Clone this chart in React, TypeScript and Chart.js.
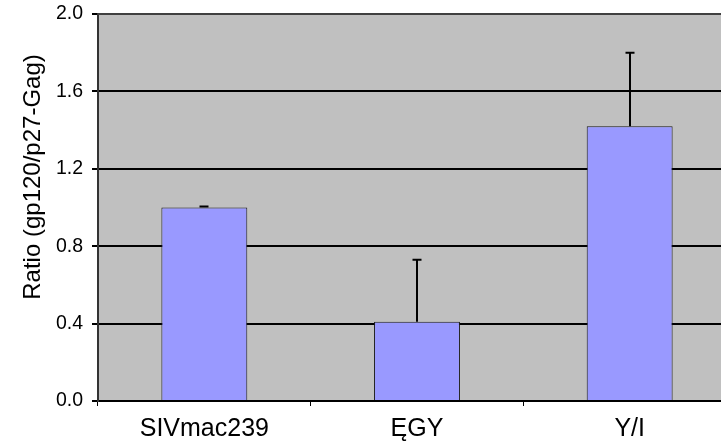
import { useEffect, useRef } from "react";
import { Chart, registerables } from "chart.js";

Chart.register(...registerables);

const categories = ["SIVmac239", "ĘGY", "Y/I"];
const ratioValues = [1.0, 0.41, 1.42];
const errorPlus = [0.005, 0.32, 0.38];
const yTicks = [0, 0.4, 0.8, 1.2, 1.6, 2.0];
const yTitle = "Ratio (gp120/p27-Gag)";

const FONT = "'Liberation Sans', Arial, sans-serif";

const decorPlugin = {
  id: "decor",
  beforeDraw(chart: any) {
    const { ctx, chartArea: a } = chart;
    ctx.save();
    ctx.fillStyle = "#C0C0C0";
    ctx.fillRect(a.left, a.top, a.right - a.left, a.bottom - a.top);
    ctx.restore();
  },
  afterDatasetsDraw(chart: any) {
    const { ctx } = chart;
    const meta = chart.getDatasetMeta(0);
    const ys = chart.scales.y;
    ctx.save();
    ctx.strokeStyle = "#000";
    ctx.lineWidth = 2;
    meta.data.forEach((bar: any, i: number) => {
      const x = Math.round(bar.x);
      const y0 = ys.getPixelForValue(ratioValues[i]);
      const y1 = ys.getPixelForValue(ratioValues[i] + errorPlus[i]);
      ctx.beginPath();
      ctx.moveTo(x, y0);
      ctx.lineTo(x, y1);
      ctx.moveTo(x - 4.5, y1);
      ctx.lineTo(x + 4.5, y1);
      ctx.stroke();
    });
    ctx.restore();
  },
  afterDraw(chart: any) {
    const { ctx, chartArea: a } = chart;
    ctx.save();
    ctx.strokeStyle = "#404040";
    ctx.lineWidth = 2;
    ctx.beginPath();
    ctx.moveTo(a.left, a.top);
    ctx.lineTo(a.right, a.top);
    ctx.stroke();
    ctx.translate(33, 177);
    ctx.rotate(-Math.PI / 2);
    ctx.fillStyle = "#000";
    ctx.font = `24px ${FONT}`;
    ctx.textAlign = "center";
    ctx.textBaseline = "middle";
    ctx.fillText(yTitle, 0, 0);
    ctx.restore();
  },
};

export default function App() {
  const ref = useRef<HTMLCanvasElement>(null);
  useEffect(() => {
    const canvas = ref.current!;
    const chart = new Chart(canvas, {
      type: "bar",
      data: {
        labels: categories,
        datasets: [
          {
            data: ratioValues,
            backgroundColor: "#9999FF",
            borderColor: "#1a1a1a",
            borderWidth: 1,
            barPercentage: 0.404,
            categoryPercentage: 1,
          },
        ],
      },
      options: {
        responsive: false,
        animation: false,
        layout: { padding: { top: 14, right: 4, left: 0, bottom: 0 } },
        plugins: {
          legend: { display: false },
          tooltip: { enabled: false },
        },
        scales: {
          x: {
            offset: true,
            grid: {
              offset: true,
              drawOnChartArea: false,
              drawTicks: true,
              tickLength: 5,
              tickColor: "#000",
              lineWidth: 1,
            },
            border: { display: true, color: "#000", width: 2 },
            ticks: {
              color: "#000",
              font: { family: FONT, size: 25 },
              padding: 8,
              maxRotation: 0,
            },
            afterFit: (s: any) => {
              s.height = 47;
              s.paddingLeft = 0;
              s.paddingRight = 0;
            },
          },
          y: {
            min: 0,
            max: 2,
            afterBuildTicks: (s: any) => {
              s.ticks = yTicks.map((v) => ({ value: v }));
            },
            grid: {
              color: (c: any) => (c.tick && c.tick.value === 2 ? "#404040" : "#000"),
              lineWidth: 2,
              tickLength: 6,
              tickColor: "#000",
            },
            border: { display: true, color: "#333", width: 2 },
            ticks: {
              color: "#000",
              font: { family: FONT, size: 19.5 },
              padding: 9,
              callback: (v: any) => Number(v).toFixed(1),
            },
            afterFit: (s: any) => {
              s.width = 98;
              s.paddingTop = 0;
              s.paddingBottom = 0;
            },
          },
        },
      },
      plugins: [decorPlugin],
    });
    return () => chart.destroy();
  }, []);
  return (
    <div
      style={{
        position: "fixed",
        left: 0,
        top: 0,
        width: 721,
        height: 448,
        overflow: "hidden",
        background: "#fff",
      }}
    >
      <canvas ref={ref} width={740} height={448} style={{ display: "block" }} />
    </div>
  );
}
